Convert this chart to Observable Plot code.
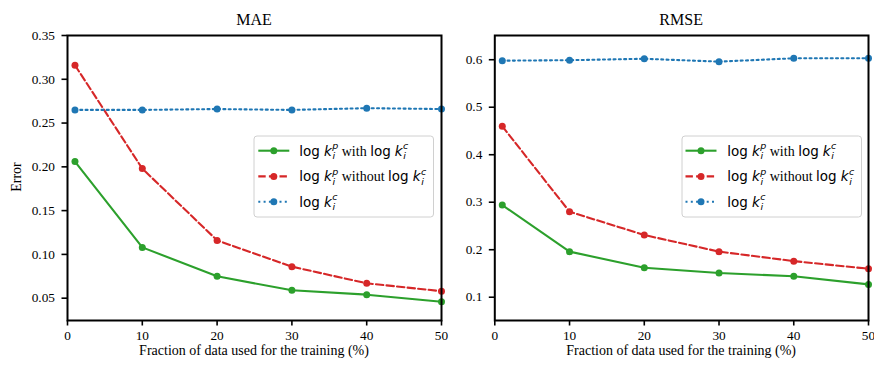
<!DOCTYPE html>
<html>
<head>
<meta charset="utf-8">
<script src="https://cdn.jsdelivr.net/npm/d3@7"></script>
<script src="https://cdn.jsdelivr.net/npm/@observablehq/plot@0.6"></script>
<style>
  html, body { margin: 0; padding: 0; background: white; }
  #wrap { position: relative; width: 874px; height: 365px; overflow: hidden; }
  #wrap > svg, #wrap > figure { position: absolute; top: 0; margin: 0; }
</style>
</head>
<body>
<div id="wrap"></div>
<script>
// ---------- data ----------
const fractions = [1, 10, 20, 30, 40, 50];
const seriesKeys = ["with", "without", "c"];
const seriesColors = ["#2ca02c", "#d62728", "#1f77b4"];
const seriesDash = [null, "7.4,3.2", "2,3.3"];

const maeWith    = [0.206, 0.108, 0.075, 0.059, 0.054, 0.046];
const maeWithout = [0.316, 0.198, 0.116, 0.086, 0.067, 0.058];
const maeC       = [0.265, 0.265, 0.266, 0.265, 0.267, 0.266];

const rmseWith    = [0.294, 0.196, 0.162, 0.151, 0.144, 0.127];
const rmseWithout = [0.460, 0.280, 0.231, 0.196, 0.176, 0.160];
const rmseC       = [0.598, 0.599, 0.602, 0.596, 0.603, 0.603];

const xTicks = [0, 10, 20, 30, 40, 50];
const maeTicks = [0.05, 0.10, 0.15, 0.20, 0.25, 0.30, 0.35];
const rmseTicks = [0.1, 0.2, 0.3, 0.4, 0.5, 0.6];

const panelTitles = ["MAE", "RMSE"];
const xLabel = "Fraction of data used for the training (%)";
const yLabel = "Error";

// ---------- helpers ----------
const wrap = document.getElementById("wrap");
const serif = "'Liberation Serif', 'Times New Roman', serif";
const sans = "'DejaVu Sans', sans-serif";

function panel({left, width, marginLeft, marginRight, yDomain, yTicks, fmt, vals}) {
  const marks = [
    Plot.axisX({ticks: xTicks, tickSize: 5.5, tickPadding: 4.3, label: null, tickFormat: d => String(d), strokeWidth: 1.6}),
    Plot.axisY({ticks: yTicks, tickSize: 5.5, tickPadding: 7, label: null, tickFormat: fmt, strokeWidth: 1.6})
  ];
  seriesKeys.forEach((k, si) => {
    const data = fractions.map((x, i) => ({x, y: vals[si][i]}));
    marks.push(Plot.line(data, {x: "x", y: "y", stroke: seriesColors[si], strokeWidth: 2.1, strokeDasharray: seriesDash[si] || undefined}));
    marks.push(Plot.dot(data, {x: "x", y: "y", fill: seriesColors[si], r: 3.5}));
  });
  marks.push(Plot.frame({stroke: "black", strokeWidth: 2}));
  const svg = Plot.plot({
    width, height: 365, marginLeft, marginRight, marginTop: 35, marginBottom: 45,
    style: {fontFamily: serif, fontSize: "13.3px", color: "black", background: "transparent", overflow: "visible"},
    x: {domain: [0, 50]},
    y: {domain: yDomain},
    marks
  });
  svg.style.left = left + "px";
  wrap.appendChild(svg);
}

panel({left: 0, width: 445, marginLeft: 67, marginRight: 4, yDomain: [0.0245, 0.35], yTicks: maeTicks, fmt: d3.format(".2f"), vals: [maeWith, maeWithout, maeC]});
panel({left: 445, width: 429, marginLeft: 49.3, marginRight: 6, yDomain: [0.051, 0.651], yTicks: rmseTicks, fmt: d3.format(".1f"), vals: [rmseWith, rmseWithout, rmseC]});

// ---------- overlay: titles, labels, legends ----------
const NS = "http://www.w3.org/2000/svg";
const ov = document.createElementNS(NS, "svg");
ov.setAttribute("width", 874); ov.setAttribute("height", 365);
ov.style.left = "0px";
wrap.appendChild(ov);

function el(tag, attrs, parent) {
  const e = document.createElementNS(NS, tag);
  for (const k in attrs) e.setAttribute(k, attrs[k]);
  (parent || ov).appendChild(e);
  return e;
}
function txt(s, attrs, parent) { const t = el("text", attrs, parent); t.textContent = s; return t; }

const panelsX = [[67, 441], [494.3, 868]];
panelTitles.forEach((t, i) => {
  const cx = (panelsX[i][0] + panelsX[i][1]) / 2;
  txt(t, {x: cx, y: 25, "text-anchor": "middle", "font-family": serif, "font-size": 16, fill: "black"});
  txt(xLabel, {x: cx, y: 354.5, "text-anchor": "middle", "font-family": serif, "font-size": 14, fill: "black"});
});
txt(yLabel, {transform: "translate(21,177) rotate(-90)", "text-anchor": "middle", "font-family": serif, "font-size": 14, fill: "black"});

// rich math text
function rich(parent, x, y, parts) {
  let cx = x;
  for (const p of parts) {
    if (p.ss) {
      const a = txt(p.ss[0], {x: cx, y: y - 6.2, "font-family": sans, "font-style": "italic", "font-size": 9.5, fill: "black"}, parent);
      const b = txt(p.ss[1], {x: cx + 0.3, y: y + 3.3, "font-family": sans, "font-style": "italic", "font-size": 9.5, fill: "black"}, parent);
      cx += Math.max(a.getComputedTextLength(), b.getComputedTextLength() + 0.3);
    } else {
      const t = txt(p.t, {x: cx, y, "font-family": p.serif ? serif : sans, "font-style": p.it ? "italic" : "normal", "font-size": p.serif ? 14 : 13.5, fill: "black"}, parent);
      t.style.whiteSpace = "pre";
      cx += t.getComputedTextLength() + (p.dx || 0);
    }
  }
}
const logK = (sup) => [{t: "log", dx: 4}, {t: "k", it: true, dx: 0.5}, {ss: [sup, "i"]}];
const legendLabels = [
  [...logK("p"), {t: " with ", serif: true, dx: 0}, ...logK("c")],
  [...logK("p"), {t: " without ", serif: true, dx: 0}, ...logK("c")],
  [...logK("c")]
];

function legend(bx, lineX0, lineX1, textX) {
  const g = el("g", {});
  el("rect", {x: bx, y: 136, width: 179.5, height: 81, rx: 3, fill: "white", "fill-opacity": 0.85, stroke: "#d0d0d0", "stroke-width": 1}, g);
  const rows = [150.7, 176.4, 201.7];
  rows.forEach((ry, i) => {
    const l = el("line", {x1: lineX0, x2: lineX1, y1: ry, y2: ry, stroke: seriesColors[i], "stroke-width": 2.1}, g);
    if (seriesDash[i]) l.setAttribute("stroke-dasharray", seriesDash[i]);
    el("circle", {cx: (lineX0 + lineX1) / 2, cy: ry, r: 3.5, fill: seriesColors[i]}, g);
    rich(g, textX, ry + 4.8, legendLabels[i]);
  });
}
legend(254, 258.3, 289.3, 299.3);
legend(682, 685.5, 716.5, 727.3);
</script>
</body>
</html>
